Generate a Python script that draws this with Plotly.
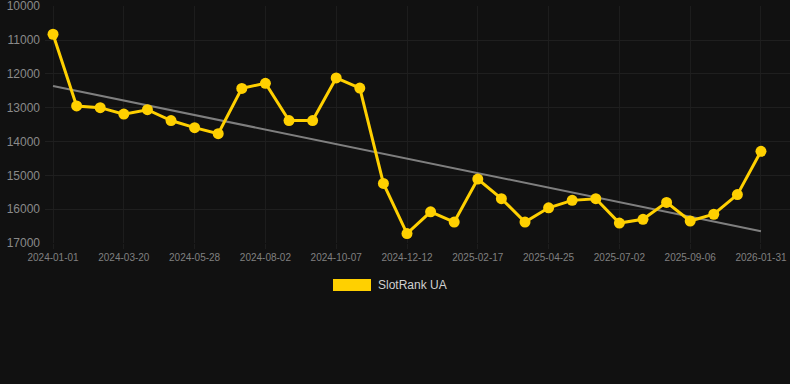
import numpy as np
import plotly.graph_objects as go

dates = [
    "2024-01-01", "2024-01-27", "2024-02-23", "2024-03-20", "2024-04-12", "2024-05-05",
    "2024-05-28", "2024-06-19", "2024-07-11", "2024-08-02", "2024-08-24", "2024-09-15",
    "2024-10-07", "2024-10-29", "2024-11-20", "2024-12-12", "2025-01-03", "2025-01-25",
    "2025-02-17", "2025-03-11", "2025-04-02", "2025-04-25", "2025-05-18", "2025-06-09",
    "2025-07-02", "2025-07-24", "2025-08-15", "2025-09-06", "2025-10-25", "2025-12-13",
    "2026-01-31",
]
ranks = [
    10830, 12950, 13000, 13190, 13060, 13380,
    13590, 13770, 12430, 12280, 13380, 13380,
    12120, 12420, 15240, 16720, 16080, 16380,
    15110, 15690, 16380, 15960, 15740, 15690,
    16410, 16300, 15800, 16350, 16150, 15570,
    14290,
]
tick_labels = dates[::3]
y_ticks = [10000, 11000, 12000, 13000, 14000, 15000, 16000, 17000]
series_name = "SlotRank UA"

idx = np.arange(len(ranks))
slope, intercept = np.polyfit(idx, ranks, 1)
trend = slope * idx + intercept

fig = go.Figure()
fig.add_trace(go.Scatter(
    x=dates, y=trend, mode="lines",
    line=dict(color="rgba(140,140,140,0.9)", width=2),
    hoverinfo="skip", showlegend=False,
))
fig.add_trace(go.Scatter(
    x=dates, y=ranks, mode="lines+markers", name=series_name,
    line=dict(color="#FFD000", width=3),
    marker=dict(color="#FFD000", size=11),
    showlegend=False,
))

fig.add_shape(type="rect", xref="paper", yref="paper",
              x0=(333 - 45) / 745, x1=(371 - 45) / 745,
              y0=-(279 - 243) / 237, y1=-(291 - 243) / 237,
              fillcolor="#FFD000", line=dict(width=0))
fig.add_annotation(xref="paper", yref="paper",
                   x=(376 - 45) / 745, y=-(285 - 243) / 237,
                   xanchor="left", yanchor="middle", showarrow=False,
                   text=series_name,
                   font=dict(family="Liberation Sans, Arial, sans-serif", size=12, color="#d0d0d0"))

fig.update_layout(
    width=790, height=384,
    margin=dict(l=45, r=0, t=6, b=141),
    paper_bgcolor="#111111", plot_bgcolor="#111111",
    showlegend=False,
    font=dict(family="Liberation Sans, Arial, sans-serif", color="#8a8a8a"),
    xaxis=dict(
        type="category", categoryorder="array", categoryarray=dates,
        range=[-0.34, 31.23],
        tickmode="array", tickvals=tick_labels, ticktext=tick_labels,
        tickfont=dict(size=10, color="#808080"),
        showgrid=True, gridcolor="#1d1d1d", gridwidth=1,
        zeroline=False, showline=False,
        ticks="outside", ticklen=5, tickcolor="#1d1d1d",
    ),
    yaxis=dict(
        range=[17000, 9995],
        tickmode="array", tickvals=y_ticks, ticktext=[str(v) for v in y_ticks],
        tickfont=dict(size=12, color="#8a8a8a"),
        showgrid=True, gridcolor="#1f1f1f", gridwidth=1,
        zeroline=False, showline=False, ticklabelstandoff=4,
        ticklabeloverflow="allow",
    ),
)

fig.write_html("out.html", config={"displayModeBar": False},
               post_script="document.body.style.margin='0';")
